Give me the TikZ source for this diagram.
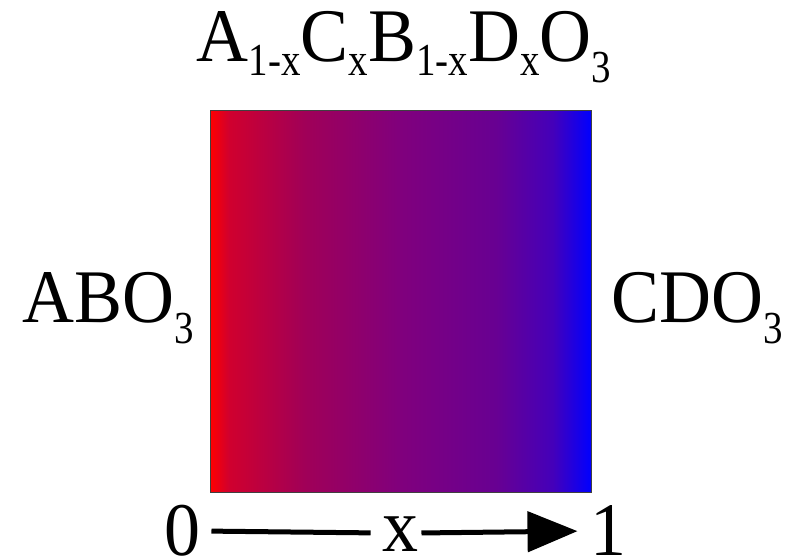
\documentclass[tikz,border=0pt]{standalone}
\usepackage{fontspec}
\setmainfont{Liberation Serif}[FakeStretch=0.95]
\newfontfamily\subfamily{Liberation Serif}[FakeStretch=0.85]
\usetikzlibrary{arrows.meta}

\definecolor{solred}{HTML}{FF0000}
\definecolor{solcrim}{HTML}{D0002E}
\definecolor{solmag}{HTML}{A00058}
\definecolor{solpurp}{HTML}{80007D}
\definecolor{solviol}{HTML}{680092}
\definecolor{solind}{HTML}{4400BA}
\definecolor{solblue}{HTML}{0000FF}

% lowered small index, as the formulae print it
\newcommand\sbs[2][14bp]{\raisebox{-#1}{\subfamily\fontsize{46}{46}\selectfont #2}}

% red -> purple -> blue, steeper at both ends
\pgfdeclarehorizontalshading{rpb}{100bp}{%
  color(0bp)=(solred); color(25bp)=(solred); color(27.5bp)=(solcrim);
  color(37.5bp)=(solmag); color(50bp)=(solpurp); color(62.5bp)=(solviol);
  color(70bp)=(solind); color(75bp)=(solblue); color(100bp)=(solblue)}

\begin{document}
\begin{tikzpicture}[x=1bp, y=-1bp, line width=1bp,
  lab/.style={inner sep=0pt, anchor=base, font=\fontsize{76}{80}\selectfont},
  numlab/.style={lab, text height=48bp, text depth=0pt},
  solbox/.style={draw=black!75, shading=rpb, minimum width=381bp, minimum height=381bp, inner sep=0pt},
  axline/.style={line width=5bp, black},
]
\useasboundingbox (0,0) rectangle (792,560);

% ---------------- solid solution ----------------
\node[lab] (formula) at (404,62) {A\sbs{1-x}C\sbs{x}B\sbs{1-x}D\sbs{x}O\sbs[21bp]{3}};
\node[solbox] (sol) at (400.5,301.5) {};
\node[lab] (endA) at (108,322) {ABO\sbs[21bp]{3}};
\node[lab] (endC) at (697,322) {CDO\sbs[21bp]{3}};

% ---------------- composition axis ----------------
\node[numlab] (zero) at (182,555) {0};
\node[lab, text height=36bp, text depth=0pt] (xlab) at (400,551) {x};
\node[numlab] (one) at (608,555) {1};
\draw[axline, shorten <=11bp, shorten >=11bp] (zero.east) -- (xlab.west);
\draw[axline, -{Triangle[length=50bp, width=40bp]}, shorten <=3bp, shorten >=12bp] (xlab.east) -- (one.west);
\end{tikzpicture}
\end{document}
